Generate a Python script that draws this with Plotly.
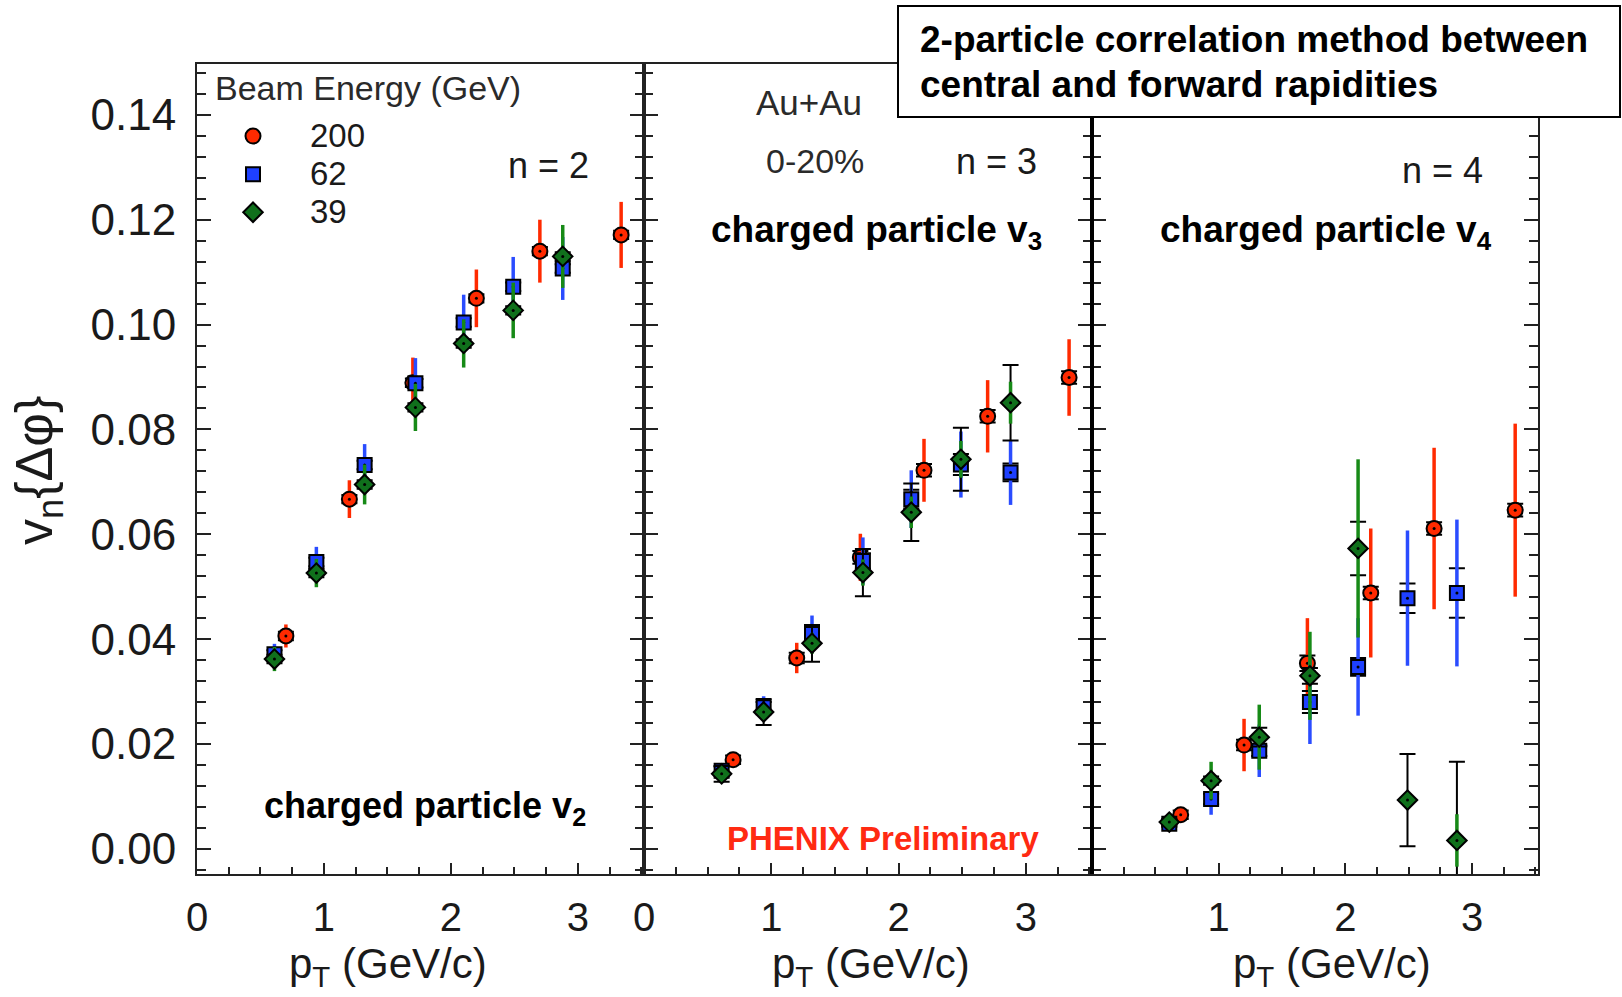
import plotly.graph_objects as go

# ---------------- data ----------------
ENERGIES = ["200", "62", "39"]
PT_200 = [0.70, 1.20, 1.70, 2.20, 2.70, 3.34]
PT_LOW = [0.61, 0.94, 1.32, 1.72, 2.10, 2.49, 2.88]   # 62 and 39 GeV share the bins

# n = 2
V2_200 = [0.0406, 0.0667, 0.0889, 0.1050, 0.1140, 0.1171]
V2_200_STAT = [0.0022, 0.0036, 0.0048, 0.0055, 0.0060, 0.0063]
V2_200_SYST = [0.0008, 0.0008, 0.0008, 0.0008, 0.0008, 0.0008]
V2_62 = [0.0371, 0.0547, 0.0732, 0.0888, 0.1004, 0.1072, 0.1107]
V2_62_STAT = [0.0020, 0.0029, 0.0040, 0.0048, 0.0053, 0.0057, 0.0060]
V2_62_SYST = [0.0008, 0.0008, 0.0008, 0.0008, 0.0008, 0.0008, 0.0008]
V2_39 = [0.0362, 0.0526, 0.0695, 0.0842, 0.0964, 0.1027, 0.1130]
V2_39_STAT = [0.0023, 0.0027, 0.0038, 0.0045, 0.0046, 0.0053, 0.0060]
V2_39_SYST = [0.0008, 0.0008, 0.0008, 0.0008, 0.0008, 0.0008, 0.0008]

# n = 3
V3_200 = [0.0170, 0.0364, 0.0556, 0.0722, 0.0825, 0.0899]
V3_200_STAT = [0.0015, 0.0029, 0.0045, 0.0060, 0.0069, 0.0073]
V3_200_SYST = [0.0008, 0.0010, 0.0012, 0.0012, 0.0012, 0.0012]
V3_62 = [0.0149, 0.0270, 0.0410, 0.0549, 0.0667, 0.0733, 0.0718]
V3_62_STAT = [0.0012, 0.0021, 0.0035, 0.0045, 0.0055, 0.0063, 0.0062]
V3_62_SYST = [0.0008, 0.0010, 0.0012, 0.0015, 0.0018, 0.0020, 0.0017]
V3_39 = [0.0143, 0.0261, 0.0392, 0.0527, 0.0642, 0.0743, 0.0851]
V3_39_STAT = [0.0010, 0.0015, 0.0020, 0.0025, 0.0030, 0.0035, 0.0040]
V3_39_SYST = [0.0015, 0.0025, 0.0035, 0.0045, 0.0055, 0.0060, 0.0072]

# n = 4
V4_200 = [0.0065, 0.0198, 0.0354, 0.0488, 0.0611, 0.0646]
V4_200_STAT = [0.0015, 0.0050, 0.0086, 0.0123, 0.0154, 0.0165]
V4_200_SYST = [0.0008, 0.0010, 0.0015, 0.0012, 0.0012, 0.0012]
V4_62 = [0.0048, 0.0095, 0.0187, 0.0280, 0.0347, 0.0478, 0.0488]
V4_62_STAT = [0.0012, 0.0030, 0.0050, 0.0080, 0.0093, 0.0129, 0.0140]
V4_62_SYST = [0.0006, 0.0010, 0.0010, 0.0021, 0.0017, 0.0028, 0.0047]
V4_39 = [0.0051, 0.0130, 0.0213, 0.0330, 0.0573, 0.0093, 0.0016]
V4_39_STAT = [0.0012, 0.0036, 0.0062, 0.0084, 0.0170, 0.0000, 0.0050]
V4_39_SYST = [0.0006, 0.0008, 0.0018, 0.0015, 0.0051, 0.0088, 0.0150]

Y_TICKS = [0.00, 0.02, 0.04, 0.06, 0.08, 0.10, 0.12, 0.14]
X_TICKS_12 = [0, 1, 2, 3]
X_TICKS_3 = [1, 2, 3]

# ---------------- styling / geometry ----------------
W, H = 1622, 997
L, R, T, B = 197, 84, 64, 123
PW, PH = W - L - R, H - T - B
EDGES = [197, 644, 1092, 1538]
FONT = "Liberation Sans, Arial, Helvetica, sans-serif"
INK = "#1a1a1a"


def px(X):
    return (X - L) / PW


def py(Y):
    return (H - B - Y) / PH


STYLE = {
    "200": dict(symbol="circle", size=15, fill="#ff2a00", bar="#ff2a00"),
    "62": dict(symbol="square", size=14, fill="#1e40ff", bar="#2a4cff"),
    "39": dict(symbol="diamond", size=15, fill="#10701c", bar="#178a17"),
}

PANELS = [
    ("x", "y", [(PT_200, V2_200, V2_200_STAT, V2_200_SYST),
                (PT_LOW, V2_62, V2_62_STAT, V2_62_SYST),
                (PT_LOW, V2_39, V2_39_STAT, V2_39_SYST)]),
    ("x2", "y2", [(PT_200, V3_200, V3_200_STAT, V3_200_SYST),
                  (PT_LOW, V3_62, V3_62_STAT, V3_62_SYST),
                  (PT_LOW, V3_39, V3_39_STAT, V3_39_SYST)]),
    ("x3", "y3", [(PT_200, V4_200, V4_200_STAT, V4_200_SYST),
                  (PT_LOW, V4_62, V4_62_STAT, V4_62_SYST),
                  (PT_LOW, V4_39, V4_39_STAT, V4_39_SYST)]),
]

fig = go.Figure()

for pi, (xa, ya, series) in enumerate(PANELS):
    for (pt, v, stat, syst), e in zip(series, ENERGIES):
        st = STYLE[e]
        # systematic (black, capped)
        fig.add_trace(go.Scatter(
            x=pt, y=v, xaxis=xa, yaxis=ya, mode="markers",
            marker=dict(size=1, color="rgba(0,0,0,0)"),
            error_y=dict(type="data", array=syst, visible=True, color="#000000",
                         thickness=2, width=8),
            showlegend=False, hoverinfo="skip"))
        # statistical bars + markers
        fig.add_trace(go.Scatter(
            x=pt, y=v, xaxis=xa, yaxis=ya, mode="markers",
            name=f'<span style="font-size:33px">{e}</span>',
            legendgroup=e, showlegend=(pi == 0),
            marker=dict(symbol=st["symbol"], size=st["size"], color=st["fill"],
                        line=dict(color="#000000", width=2)),
            error_y=dict(type="data", array=stat, visible=True, color=st["bar"],
                         thickness=3.5, width=0)))
        # black centre dot
        fig.add_trace(go.Scatter(
            x=pt, y=v, xaxis=xa, yaxis=ya, mode="markers",
            marker=dict(size=3, color="#000000"),
            showlegend=False, hoverinfo="skip"))

axis_common = dict(showline=True, linecolor="#222222", linewidth=2, showgrid=False,
                   zeroline=False, ticks="inside", tickcolor="#222222")

xtickfont = dict(family=FONT, size=40, color=INK)
ytickfont = dict(family=FONT, size=44, color=INK)
for i, name in enumerate(["xaxis", "xaxis2", "xaxis3"]):
    d0, d1 = px(EDGES[i]), px(EDGES[i + 1])
    fig.layout[name] = dict(
        axis_common, domain=[d0, d1], range=[0, 3.52], mirror=True,
        anchor=["y", "y2", "y3"][i],
        tickmode="array", tickvals=(X_TICKS_12 if i < 2 else X_TICKS_3),
        ticktext=[str(t) for t in (X_TICKS_12 if i < 2 else X_TICKS_3)],
        ticklen=11, tickwidth=2, tickfont=xtickfont, ticklabelstandoff=7,
        minor=dict(dtick=0.25, tick0=0, ticks="inside", ticklen=7, tickwidth=1.5,
                   tickcolor="#222222"))

for i, name in enumerate(["yaxis", "yaxis2", "yaxis3"]):
    extra = {} if i == 0 else dict(matches="y")
    fig.layout[name] = dict(
        axis_common, domain=[0, 1], range=[-0.0048, 0.1497], mirror="allticks",
        anchor=["x", "x2", "x3"][i],
        tickmode="array", tickvals=Y_TICKS, ticktext=[f"{t:.2f}" for t in Y_TICKS],
        showticklabels=(i == 0), ticklen=14, tickwidth=2, tickfont=ytickfont,
        ticklabelstandoff=10,
        minor=dict(dtick=0.004, tick0=0, ticks="inside", ticklen=9, tickwidth=1.5,
                   tickcolor="#222222"), **extra)

shapes = [
    dict(type="line", xref="paper", yref="paper", x0=px(1092), x1=px(1092), y0=0, y1=1,
         line=dict(color="#000000", width=4), layer="above"),
    dict(type="rect", xref="paper", yref="paper", x0=px(898), x1=px(1620),
         y0=py(117), y1=py(6), fillcolor="#ffffff", line=dict(color="#000000", width=2),
         layer="above"),
]


def ann(text, X, Y, size, xanchor="center", color=INK, bold=False, angle=0):
    return dict(text=(f"<b>{text}</b>" if bold else text), x=px(X), y=py(Y),
                xref="paper", yref="paper", xanchor=xanchor, yanchor="middle",
                showarrow=False, textangle=angle,
                font=dict(family=FONT, size=size, color=color))


annotations = [
    ann("2-particle correlation method between", 918, 40, 37, "left", "#000000", True),
    ann("central and forward rapidities", 918, 84, 37, "left", "#000000", True),
    ann("Beam Energy (GeV)", 213, 88, 34, "left", "#2a2a2a"),
    ann("n = 2", 548, 166, 36),
    ann("charged particle v<sub>2</sub>", 262, 808, 36, "left", "#000000", True),
    ann("Au+Au", 809, 102, 35, color="#2a2a2a"),
    ann("0-20%", 815, 161, 34, color="#2a2a2a"),
    ann("n = 3", 996, 161, 36),
    ann("charged particle v<sub>3</sub>", 709, 232, 37, "left", "#000000", True),
    ann("PHENIX Preliminary", 883, 838, 33, color="#ff2a12", bold=True),
    ann("n = 4", 1442, 170, 36),
    ann("charged particle v<sub>4</sub>", 1158, 232, 37, "left", "#000000", True),
    ann("v<sub>n</sub>{Δφ}", 38, 471, 52, angle=-90),
    ann("p<sub>T</sub> (GeV/c)", 388, 967, 42),
    ann("p<sub>T</sub> (GeV/c)", 871, 967, 42),
    ann("p<sub>T</sub> (GeV/c)", 1332, 967, 42),
]

fig.update_layout(
    width=W, height=H, margin=dict(l=L, r=R, t=T, b=B, pad=0),
    paper_bgcolor="#ffffff", plot_bgcolor="#ffffff",
    font=dict(family=FONT, color=INK),
    shapes=shapes, annotations=annotations,
    legend=dict(x=px(196), y=py(112), xanchor="left", yanchor="top",
                bgcolor="rgba(0,0,0,0)", borderwidth=0, itemwidth=104,
                font=dict(family=FONT, size=27, color=INK), traceorder="normal",
                itemclick=False),
)

fig.write_html("out.html")
